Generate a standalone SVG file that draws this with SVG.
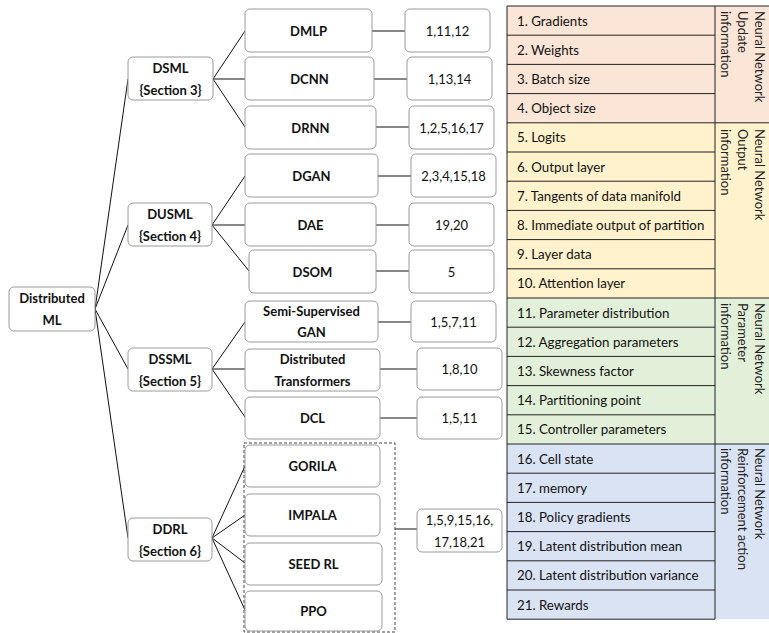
<svg xmlns="http://www.w3.org/2000/svg" width="769" height="633" viewBox="0 0 769 633">
<style>
.nb{fill:#fff;stroke:#9a9a9a;stroke-width:1}
.nt{font-family:Lato,"Liberation Sans",sans-serif;font-weight:bold;font-size:13px;fill:#111;text-anchor:middle;dominant-baseline:central}
.vt{font-family:Lato,"Liberation Sans",sans-serif;font-size:13px;fill:#111;text-anchor:middle;dominant-baseline:central}
.tt{font-family:Lato,"Liberation Sans",sans-serif;font-size:13.3px;fill:#111;dominant-baseline:central}
.lt{font-family:Lato,"Liberation Sans",sans-serif;font-size:13px;fill:#222;dominant-baseline:central}
.cn{stroke:#111;stroke-width:1;fill:none}
.cell{stroke:#222;stroke-width:1}
.pk{fill:#fbe5d6}.yl{fill:#fff2cc}.gr{fill:#e2f0d9}.bl{fill:#dae3f3}
</style>
<rect width="769" height="633" fill="#fff"/>
<g id="connectors">
<path class="cn" d="M95 309L128 79M95 309L128 225M95 309L128 369M95 309L128 538"/>
<path class="cn" d="M213 79L245 31M213 79L245 79M213 79L245 127"/>
<path class="cn" d="M212 225L245 176M212 225L245 225M212 225L249 271"/>
<path class="cn" d="M212 369L245 322M212 369L245 369M212 369L245 417"/>
<path class="cn" d="M212 538L245 466M212 538L245 515M212 538L245 563M212 538L245 610"/>
<path class="cn" d="M372 31H405M374 79H407M376 127H409M378 176H411M376 225H409M376 271H409M378 322H411M380 369H417M380 418H417M395 529H417"/>
</g>
<g id="dashed-group"><rect x="244" y="443" width="151" height="189" fill="none" stroke="#444" stroke-width="1" stroke-dasharray="3,2"/></g>
<g id="n-root"><rect class="nb" x="9" y="287" width="86" height="44" rx="5"/><text class="nt" x="52" y="298">Distributed</text><text class="nt" x="52" y="320">ML</text></g>
<g id="n-dsml"><rect class="nb" x="128" y="57" width="85" height="43" rx="5"/><text class="nt" x="170.5" y="67.5">DSML</text><text class="nt" x="170.5" y="89.5">{Section 3}</text></g>
<g id="n-dusml"><rect class="nb" x="128" y="203" width="84" height="43" rx="5"/><text class="nt" x="170" y="213.5">DUSML</text><text class="nt" x="170" y="235.5">{Section 4}</text></g>
<g id="n-dssml"><rect class="nb" x="128" y="348" width="84" height="43" rx="5"/><text class="nt" x="170" y="358.5">DSSML</text><text class="nt" x="170" y="380.5">{Section 5}</text></g>
<g id="n-ddrl"><rect class="nb" x="128" y="518" width="84" height="43" rx="5"/><text class="nt" x="170" y="528.5">DDRL</text><text class="nt" x="170" y="550.5">{Section 6}</text></g>
<g id="n-dmlp"><rect class="nb" x="245" y="9" width="127" height="43" rx="5"/><text class="nt" x="308.5" y="30.5">DMLP</text></g>
<g id="n-dcnn"><rect class="nb" x="245" y="57" width="129" height="43" rx="5"/><text class="nt" x="309.5" y="78.5">DCNN</text></g>
<g id="n-drnn"><rect class="nb" x="245" y="106" width="131" height="43" rx="5"/><text class="nt" x="310.5" y="127.5">DRNN</text></g>
<g id="n-dgan"><rect class="nb" x="245" y="154" width="133" height="43" rx="5"/><text class="nt" x="311.5" y="175.5">DGAN</text></g>
<g id="n-dae"><rect class="nb" x="245" y="203" width="131" height="43" rx="5"/><text class="nt" x="310.5" y="224.5">DAE</text></g>
<g id="n-dsom"><rect class="nb" x="249" y="250" width="127" height="43" rx="5"/><text class="nt" x="312.5" y="271.5">DSOM</text></g>
<g id="n-ssgan"><rect class="nb" x="245" y="301" width="133" height="41" rx="5"/><text class="nt" x="311.5" y="310.5">Semi-Supervised</text><text class="nt" x="311.5" y="331.5">GAN</text></g>
<g id="n-dt"><rect class="nb" x="245" y="349" width="135" height="42" rx="5"/><text class="nt" x="312.5" y="358.5">Distributed</text><text class="nt" x="312.5" y="380.5">Transformers</text></g>
<g id="n-dcl"><rect class="nb" x="245" y="397" width="135" height="42" rx="5"/><text class="nt" x="312.5" y="418">DCL</text></g>
<g id="n-gorila"><rect class="nb" x="245" y="445" width="135" height="42" rx="5"/><text class="nt" x="312.5" y="466">GORILA</text></g>
<g id="n-impala"><rect class="nb" x="245" y="494" width="135" height="42" rx="5"/><text class="nt" x="312.5" y="515">IMPALA</text></g>
<g id="n-seed"><rect class="nb" x="245" y="543" width="137" height="42" rx="5"/><text class="nt" x="313.5" y="564">SEED RL</text></g>
<g id="n-ppo"><rect class="nb" x="245" y="591" width="137" height="40" rx="5"/><text class="nt" x="313.5" y="611">PPO</text></g>
<g id="v-dmlp"><rect class="nb" x="405" y="9" width="85" height="43" rx="5"/><text class="vt" x="447.5" y="30.5">1,11,12</text></g>
<g id="v-dcnn"><rect class="nb" x="407" y="57" width="85" height="43" rx="5"/><text class="vt" x="449.5" y="78.5">1,13,14</text></g>
<g id="v-drnn"><rect class="nb" x="409" y="106" width="85" height="43" rx="5"/><text class="vt" x="451.5" y="127.5">1,2,5,16,17</text></g>
<g id="v-dgan"><rect class="nb" x="411" y="154" width="85" height="43" rx="5"/><text class="vt" x="453.5" y="175.5">2,3,4,15,18</text></g>
<g id="v-dae"><rect class="nb" x="409" y="203" width="85" height="43" rx="5"/><text class="vt" x="451.5" y="224.5">19,20</text></g>
<g id="v-dsom"><rect class="nb" x="409" y="250" width="85" height="43" rx="5"/><text class="vt" x="451.5" y="271.5">5</text></g>
<g id="v-ssgan"><rect class="nb" x="411" y="301" width="85" height="41" rx="5"/><text class="vt" x="453.5" y="321.5">1,5,7,11</text></g>
<g id="v-dt"><rect class="nb" x="417" y="348" width="85" height="42" rx="5"/><text class="vt" x="459.5" y="369">1,8,10</text></g>
<g id="v-dcl"><rect class="nb" x="417" y="397" width="85" height="42" rx="5"/><text class="vt" x="459.5" y="418">1,5,11</text></g>
<g id="v-ddrl"><rect class="nb" x="417" y="509" width="85" height="43" rx="5"/><text class="vt" x="459.5" y="519.5">1,5,9,15,16,</text><text class="vt" x="459.5" y="541.5">17,18,21</text></g>
<g id="table">
<rect class="pk" x="507" y="6" width="262" height="116.8"/>
<rect class="yl" x="507" y="122.8" width="262" height="175.2"/>
<rect class="gr" x="507" y="298" width="262" height="146"/>
<rect class="bl" x="507" y="444" width="262" height="175.2"/>
<path class="cell" fill="none" d="M507 6H769M507 6V619.2H715M715 6V619.2M507 35.2H715M507 64.4H715M507 93.6H715M507 122.8H769M507 152H715M507 181.2H715M507 210.4H715M507 239.6H715M507 268.8H715M507 298H769M507 327.2H715M507 356.4H715M507 385.6H715M507 414.8H715M507 444H769M507 473.2H715M507 502.4H715M507 531.6H715M507 560.8H715M507 590H715"/>
<text class="tt" x="517" y="20.6">1. Gradients</text>
<text class="tt" x="517" y="49.8">2. Weights</text>
<text class="tt" x="517" y="79">3. Batch size</text>
<text class="tt" x="517" y="108.2">4. Object size</text>
<text class="tt" x="517" y="137.4">5. Logits</text>
<text class="tt" x="517" y="166.6">6. Output layer</text>
<text class="tt" x="517" y="195.8">7. Tangents of data manifold</text>
<text class="tt" x="517" y="225">8. Immediate output of partition</text>
<text class="tt" x="517" y="254.2">9. Layer data</text>
<text class="tt" x="517" y="283.4">10. Attention layer</text>
<text class="tt" x="517" y="312.6">11. Parameter distribution</text>
<text class="tt" x="517" y="341.8">12. Aggregation parameters</text>
<text class="tt" x="517" y="371">13. Skewness factor</text>
<text class="tt" x="517" y="400.2">14. Partitioning point</text>
<text class="tt" x="517" y="429.4">15. Controller parameters</text>
<text class="tt" x="517" y="458.6">16. Cell state</text>
<text class="tt" x="517" y="487.8">17. memory</text>
<text class="tt" x="517" y="517">18. Policy gradients</text>
<text class="tt" x="517" y="546.2">19. Latent distribution mean</text>
<text class="tt" x="517" y="575.4">20. Latent distribution variance</text>
<text class="tt" x="517" y="604.6">21. Rewards</text>
<text class="lt" transform="translate(760,11) rotate(90)"><tspan x="0" y="0">Neural Network</tspan><tspan x="0" y="17">Update</tspan><tspan x="0" y="34">information</tspan></text>
<text class="lt" transform="translate(760,129) rotate(90)"><tspan x="0" y="0">Neural Network</tspan><tspan x="0" y="17">Output</tspan><tspan x="0" y="34">information</tspan></text>
<text class="lt" transform="translate(760,303) rotate(90)"><tspan x="0" y="0">Neural Network</tspan><tspan x="0" y="17">Parameter</tspan><tspan x="0" y="34">information</tspan></text>
<text class="lt" transform="translate(760,448) rotate(90)"><tspan x="0" y="0">Neural Network</tspan><tspan x="0" y="17">Reinforcement action</tspan><tspan x="0" y="34">information</tspan></text>
</g>
</svg>
